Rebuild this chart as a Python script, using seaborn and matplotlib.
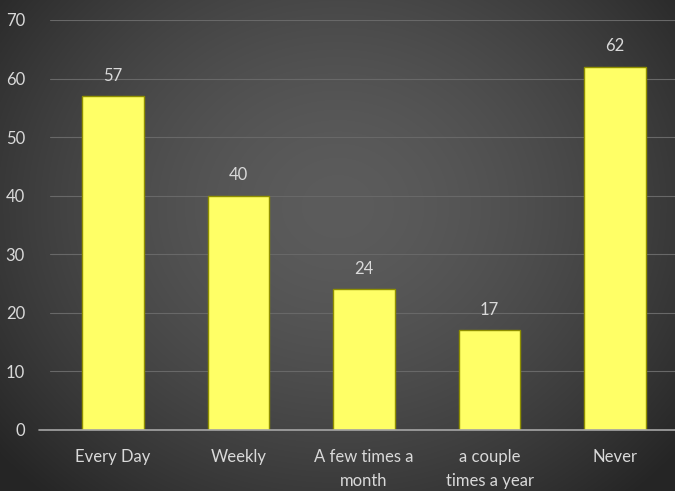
import numpy as np
import pandas as pd
import matplotlib
matplotlib.use("Agg")
import matplotlib.pyplot as plt
import seaborn as sns

categories = ["Every Day", "Weekly", "A few times a\nmonth", "a couple\ntimes a year", "Never"]
values = [57, 40, 24, 17, 62]
yticks = [0, 10, 20, 30, 40, 50, 60, 70]

sns.set_theme(style="dark")
plt.rcParams['font.family'] = ['Lato', 'DejaVu Sans']

fig = plt.figure(figsize=(6.75, 4.91), dpi=100)

# radial gradient background
bg = fig.add_axes([0, 0, 1, 1], zorder=0)
h, w = 491, 675
yy, xx = np.mgrid[0:h, 0:w]
cx, cy = w * 0.5, h * 0.42
r = np.sqrt(((xx - cx) / (w * 0.65)) ** 2 + ((yy - cy) / (h * 0.78)) ** 2)
r = np.clip(r, 0, 1)
light, dark = 0x5c / 255, 0x26 / 255
img = light + (dark - light) * r ** 1.6
bg.imshow(np.dstack([img, img, img]), aspect='auto', extent=[0, 1, 0, 1])
bg.axis('off')

ax = fig.add_axes([50 / 675, 61 / 491, 628 / 675, 410 / 491], zorder=1)
ax.patch.set_alpha(0)

df = pd.DataFrame({"cat": categories, "val": values})
sns.barplot(data=df, x="cat", y="val", ax=ax, color="#FFFF66", saturation=1,
            width=0.49, edgecolor="#8f8f00", linewidth=1, zorder=3)

ax.set_ylim(0, 70)
ax.set_yticks(yticks)
ax.set_xlim(-0.5, 4.5)
ax.grid(axis='y', color='#686868', linewidth=0.8, zorder=0)
ax.grid(axis='x', visible=False)
ax.axhline(0, color='#a6a6a6', linewidth=1.2, zorder=4, xmin=-0.018, clip_on=False)
for s in ax.spines.values():
    s.set_visible(False)
ax.set_xlabel("")
ax.set_ylabel("")
ax.tick_params(axis='both', colors='#D9D9D9', labelsize=12, length=0)
ax.tick_params(axis='y', pad=18)
ax.tick_params(axis='x', pad=14)
for lbl in ax.get_yticklabels():
    lbl.set_color('#D9D9D9')
for lbl in ax.get_xticklabels():
    lbl.set_color('#D9D9D9')
    lbl.set_linespacing(1.55)

for c in ax.containers:
    ax.bar_label(c, labels=[str(v) for v in values], padding=9, color='#D9D9D9', fontsize=12)

fig.savefig("out.png", dpi=100)
